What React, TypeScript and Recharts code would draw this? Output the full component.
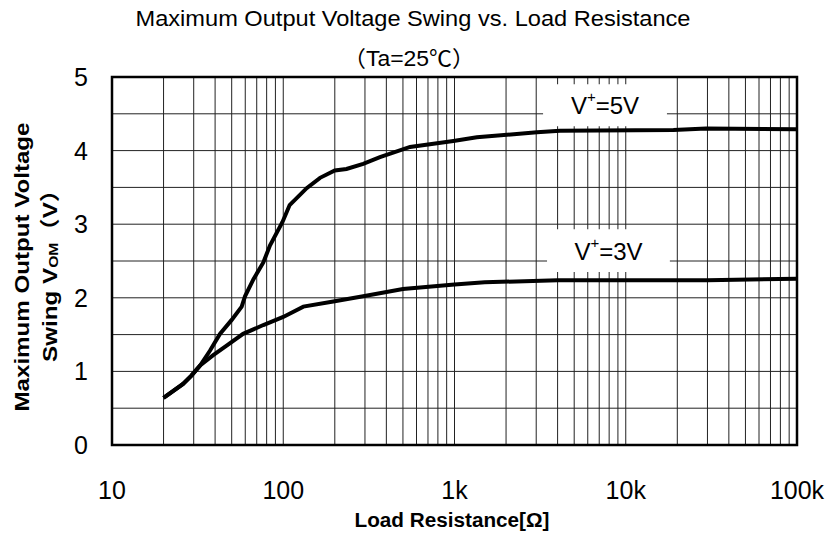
import React from 'react';
import { LineChart, Line, XAxis, YAxis, CartesianGrid, ReferenceArea } from 'recharts';

// ---- data ----
const resistance5V = [20, 26, 29, 32.7, 37.3, 42.7, 50, 57.2, 59.8, 66.9, 76.5, 83.6, 99, 109, 137, 164, 200, 234, 293, 367, 550, 985, 1350, 3030, 4130, 19000, 29500, 100000];
const swing5V = [0.64, 0.83, 0.94, 1.08, 1.28, 1.51, 1.7, 1.88, 2.02, 2.25, 2.48, 2.71, 3.03, 3.26, 3.49, 3.63, 3.73, 3.75, 3.82, 3.91, 4.05, 4.13, 4.18, 4.25, 4.27, 4.28, 4.3, 4.29];
const resistance3V = [20, 26, 29, 32.7, 39, 46.7, 58.3, 76.5, 100, 131, 196, 293, 500, 1000, 1500, 4000, 30000, 100000];
const swing3V = [0.64, 0.83, 0.94, 1.08, 1.22, 1.35, 1.51, 1.63, 1.74, 1.88, 1.95, 2.02, 2.12, 2.18, 2.21, 2.24, 2.24, 2.26];

const xTickValues = [10, 100, 1000, 10000, 100000];
const xTickLabels = ['10', '100', '1k', '10k', '100k'];
const yTickValues = [0, 1, 2, 3, 4, 5];
const yGridValues = [0.5, 1, 1.5, 2, 2.5, 3, 3.5, 4, 4.5];
const decades = [10, 100, 1000, 10000];
const multipliers = [1, 2, 3, 4, 5, 6, 7, 8, 9];

const seriesLabels = ['5V', '3V'];
// label boxes (data coords): [x1, x2, y1, y2]
const labelBoxes = [
  [3290, 17400, 4.33, 4.9],
  [3470, 18100, 2.35, 2.93],
];

const data5V = resistance5V.map((r, i) => ({ r, v: swing5V[i] }));
const data3V = resistance3V.map((r, i) => ({ r, v: swing3V[i] }));
const xGridValues = decades.flatMap((d) => multipliers.map((m) => d * m)).concat([100000]);

const FONT = '"Liberation Sans", Arial, "Noto Sans CJK JP", sans-serif';

const XTick = (props: any) => {
  const { x, y, payload } = props;
  const idx = xTickValues.indexOf(payload.value);
  return (
    <text x={x} y={y + 45} textAnchor="middle" dominantBaseline="central" fontSize={25} fill="#000" fontFamily={FONT}>
      {xTickLabels[idx]}
    </text>
  );
};

const YTick = (props: any) => {
  const { x, y, payload } = props;
  return (
    <text x={x - 31} y={y} textAnchor="middle" dominantBaseline="central" fontSize={25} fill="#000" fontFamily={FONT}>
      {payload.value}
    </text>
  );
};

const makeLabel = (txt: string) => (props: any) => {
  const vb = props.viewBox || {};
  const cx = vb.x + vb.width / 2;
  const cy = vb.y + vb.height / 2;
  return (
    <text x={cx} y={cy} textAnchor="middle" dominantBaseline="central" fontSize={24} fill="#000" fontFamily={FONT}>
      <tspan>V</tspan>
      <tspan dy={-9} fontSize={15}>+</tspan>
      <tspan dy={9}>={txt}</tspan>
    </text>
  );
};

export default function App() {
  return (
    <div style={{ position: 'absolute', left: 0, top: 0, width: 831, height: 538, background: '#fff' }}>
      <LineChart width={831} height={538} margin={{ top: 77, right: 34, bottom: 0, left: 0 }}>
        <CartesianGrid
          stroke="#222"
          strokeWidth={1}
          horizontalValues={yGridValues}
          verticalValues={xGridValues}
        />
        <XAxis
          dataKey="r"
          type="number"
          scale="log"
          domain={[10, 100000]}
          ticks={xTickValues}
          allowDataOverflow
          axisLine={false}
          tickLine={false}
          tickSize={0}
          tickMargin={0}
          height={93}
          tick={<XTick />}
          interval={0}
        />
        <YAxis
          type="number"
          domain={[0, 5]}
          ticks={yTickValues}
          axisLine={false}
          tickLine={false}
          tickSize={0}
          tickMargin={0}
          width={112}
          tick={<YTick />}
          interval={0}
        />
        {labelBoxes.map((b, i) => (
          <ReferenceArea
            key={i}
            x1={b[0]}
            x2={b[1]}
            y1={b[2]}
            y2={b[3]}
            fill="#fff"
            fillOpacity={1}
            stroke="none"
            label={makeLabel(seriesLabels[i])}
          />
        ))}
        <Line data={data5V} dataKey="v" stroke="#000" strokeWidth={4} dot={false} isAnimationActive={false} type="linear" />
        <Line data={data3V} dataKey="v" stroke="#000" strokeWidth={4} dot={false} isAnimationActive={false} type="linear" />
        <ReferenceArea x1={10} x2={100000} y1={0} y2={5} fill="none" stroke="#000" strokeWidth={2.5} />
        <text x={413} y={26} textAnchor="middle" fontSize={22} fontFamily={FONT} fill="#000" textLength={555} lengthAdjust="spacingAndGlyphs">
          Maximum Output Voltage Swing vs. Load Resistance
        </text>
        <text x={409} y={66} textAnchor="middle" fontSize={22} fontFamily={FONT} fill="#000" textLength={132} lengthAdjust="spacingAndGlyphs">
          （Ta=25℃）
        </text>
        <text x={452} y={527} textAnchor="middle" fontSize={20} fontWeight="bold" fontFamily={FONT} fill="#000" textLength={195} lengthAdjust="spacingAndGlyphs">
          Load Resistance[Ω]
        </text>
        <text transform="rotate(-90)" x={-267} y={22} textAnchor="middle" dominantBaseline="central" fontSize={20} fontWeight="bold" fontFamily={FONT} fill="#000" textLength={289} lengthAdjust="spacingAndGlyphs">
          Maximum Output Voltage
        </text>
        <text transform="rotate(-90)" x={-270} y={50} textAnchor="middle" dominantBaseline="central" fontSize={20} fontWeight="bold" fontFamily={FONT} fill="#000" textLength={184} lengthAdjust="spacingAndGlyphs">
          <tspan>Swing  V</tspan>
          <tspan fontSize={13} dy={3}>OM</tspan>
          <tspan dy={-3}>（V）</tspan>
        </text>
      </LineChart>
    </div>
  );
}
